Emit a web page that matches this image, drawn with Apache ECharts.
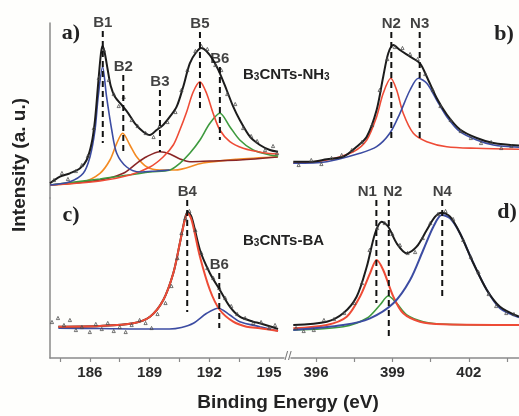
<!DOCTYPE html>
<html><head><meta charset="utf-8">
<script src="https://cdn.jsdelivr.net/npm/echarts@6/dist/echarts.min.js"></script>
<style>html,body{margin:0;padding:0;background:#fefefc}#c{width:519px;height:416px}</style>
</head><body><div id="c"></div>
<script>
// ---------- Panel a: B 1s, B3CNTs-NH3 (binding energy eV, intensity a.u.) ----------
const a_envelope = [[184.00,14.7],[184.50,21.3],[185.00,24.7],[185.51,29.7],[185.84,38],[186.09,54.7],[186.26,78],[186.42,114.7],[186.56,145],[186.64,152],[186.74,146],[186.90,128],[187.05,112],[187.26,101.3],[187.60,93],[187.93,84.7],[188.26,74.7],[188.68,66.3],[189.02,63],[189.35,68],[189.68,73],[190.02,81.3],[190.36,91.3],[190.69,111.3],[191.02,134.7],[191.35,146],[191.60,150],[191.85,147],[192.19,138],[192.53,124.7],[192.87,108],[193.20,91.3],[193.53,78],[194.04,61.3],[194.54,53],[195.04,48],[195.45,46.3]];
const a_B1 = [[184.00,13],[185.00,16.3],[185.67,24.7],[186.01,41.3],[186.26,68],[186.42,101.3],[186.64,131.3],[186.84,101.3],[187.10,68],[187.35,44.7],[187.85,31],[188.52,26],[189.35,27],[190.00,28]];
const a_B2 = [[184.00,13],[185.67,16.3],[186.51,24.7],[187.01,38],[187.35,54.7],[187.65,64.7],[188.01,53],[188.35,41.3],[188.85,31.3],[189.52,28],[190.27,28],[191.68,35],[193.37,38.7],[195.44,41.3]];
const a_B3 = [[184.00,13],[186.51,18],[187.68,24.7],[188.35,34.7],[188.85,41.3],[189.52,46.3],[190.02,44],[190.52,39],[191.02,36.3],[192.03,37],[193.53,38],[195.44,41]];
const a_B5 = [[184.00,13],[186.51,17],[188.01,23],[189.02,31],[189.68,41],[190.19,53],[190.52,68],[190.86,86],[191.19,106],[191.53,116.3],[191.86,104.7],[192.19,84.7],[192.53,68],[193.03,56.3],[193.70,49.7],[194.70,45.3],[195.46,44]];
const a_B6 = [[184.00,13],[186.51,19],[189.02,26],[190.02,28],[190.52,34.7],[191.02,44.7],[191.53,58],[192.03,74.7],[192.53,84.7],[193.03,71.3],[193.53,58],[194.20,48],[195.04,43],[195.46,42]];
const a_points = [[184.2,18],[184.6,25],[184.9,19],[185.3,27],[185.6,33],[185.9,42],[186.2,70],[186.45,120],[186.7,148],[186.95,118],[187.2,104],[187.45,92],[187.7,101],[188.1,78],[188.4,72],[188.8,65],[189.2,61],[189.5,72],[189.9,76],[190.3,86],[190.6,108],[190.9,128],[191.3,147],[191.6,152],[191.9,149],[192.3,133],[192.6,128],[192.9,104],[193.3,94],[193.7,70],[194.1,62],[194.4,57],[194.8,48],[195.2,52],[195.4,45]];
const a_peakNames = ['B1','B2','B3','B5','B6'];
const a_peakE = [186.65,187.68,189.52,191.53,192.53];
const a_peakTop = [167,123,108,166,131];
const a_peakBottom = [55,45,46,88,58];

// ---------- Panel b: N 1s, B3CNTs-NH3 ----------
const b_envelope = [[395.09,36.3],[395.75,36.3],[396.41,38.7],[397.06,41.3],[397.59,51.3],[397.99,61.3],[398.38,88],[398.64,121.3],[398.84,144.7],[399.04,153],[399.30,148],[399.70,141.3],[400.09,134.7],[400.36,121.3],[400.75,100],[401.15,83.5],[401.67,68.5],[402.33,60],[402.99,55],[404.0,52.5]];
const b_N2 = [[395.09,34.7],[396.41,38],[397.46,46.3],[397.99,58],[398.38,81.3],[398.64,104.7],[398.94,119.7],[399.17,108],[399.43,84.7],[399.83,64.7],[400.36,56.3],[401.15,51.3],[402.33,49.7],[404.0,48.7]];
const b_N3 = [[395.09,34.7],[396.41,36.3],[397.72,44.7],[398.38,51.3],[398.90,64.7],[399.30,84.7],[399.70,108],[400.03,119.7],[400.36,114.7],[400.75,98],[401.15,81.3],[401.67,66.3],[402.33,58],[402.99,53],[404.0,50.7]];
const b_points = [[395.3,33],[395.8,38],[396.2,34],[396.6,40],[397.0,43],[397.4,48],[397.8,56],[398.2,73],[398.5,108],[398.8,139],[399.1,151],[399.4,150],[399.7,144],[400.0,139],[400.3,124],[400.6,108],[400.9,92],[401.3,78],[401.7,67],[402.1,60],[402.5,55],[402.9,56],[403.3,50],[403.7,52]];
const b_peakNames = ['N2','N3'];
const b_peakE = [398.96,400.08];
const b_peakTop = [166,166];
const b_peakBottom = [58,58];

// ---------- Panel c: B 1s, B3CNTs-BA ----------
const c_envelope = [[184.42,31.3],[186.51,32],[188.18,34.7],[189.02,41.3],[189.69,58],[190.19,84.7],[190.52,114.7],[190.77,139],[190.91,146.3],[191.11,141],[191.53,108],[192.03,84.7],[192.53,68],[193.03,51.3],[193.53,41.3],[194.20,36.3],[194.54,34.7],[195.45,29]];
const c_B4 = [[184.42,31.3],[186.51,32],[188.18,34.7],[189.02,41.3],[189.69,58],[190.19,84.7],[190.52,114.7],[190.77,138],[190.91,144.7],[191.11,138],[191.53,101.3],[192.03,68],[192.53,48],[193.20,36.3],[193.87,31.3],[194.54,29.7],[195.45,27]];
const c_B6 = [[184.42,29.7],[186.50,29.5],[188.50,29],[190.00,29],[190.60,30.5],[191.20,34.7],[191.87,44.7],[192.45,49.7],[193.03,43],[193.53,36.3],[194.54,31.3],[195.45,27]];
const c_points = [[184.1,36],[184.4,40],[184.7,33],[185.0,38],[185.3,28],[185.6,31],[186.0,26],[186.3,34],[186.6,29],[186.9,35],[187.2,27],[187.5,31],[187.8,26],[188.1,33],[188.5,38],[188.8,35],[189.1,30],[189.4,44],[189.8,55],[190.1,72],[190.4,100],[190.6,125],[190.8,140],[191.0,147],[191.3,128],[191.6,105],[191.9,90],[192.2,80],[192.5,70],[192.8,60],[193.1,52],[193.4,44],[193.8,40],[194.2,35],[194.6,36],[195.0,30],[195.3,33]];
const c_peakNames = ['B4','B6'];
const c_peakE = [190.89,192.50];
const c_peakTop = [158,85];
const c_peakBottom = [46,30];

// ---------- Panel d: N 1s, B3CNTs-BA ----------
const d_envelope = [[395.09,33],[396.41,36.3],[397.06,44.7],[397.59,61.3],[397.99,91.3],[398.32,124.7],[398.58,136.3],[398.84,131.3],[399.17,114.7],[399.57,104.7],[399.96,111.3],[400.36,128],[400.69,141.3],[400.95,145.3],[401.28,141.3],[401.67,124.7],[402.20,94.7],[402.73,68],[403.25,51.3],[404.0,41.3]];
const d_N1 = [[395.09,29.7],[396.41,33],[397.20,41.3],[397.72,61.3],[398.12,84.7],[398.38,98],[398.64,88],[399.04,61.3],[399.43,44.7],[400.09,36.3],[401.01,33.7],[404.0,33]];
const d_N2 = [[395.09,28],[397.06,31.3],[397.99,39.7],[398.51,53],[398.84,62],[399.17,54.7],[399.57,43],[400.22,36.3],[401.15,33.7],[404.0,33]];
const d_N4 = [[395.09,28],[397.06,33],[398.12,39.7],[399.04,54.7],[399.70,78],[400.22,108],[400.62,131.3],[400.95,143],[401.28,139.7],[401.67,124.7],[402.20,94.7],[402.73,68],[403.25,49.7],[404.0,40.7]];
const d_points = [[395.2,30],[395.5,27],[395.9,28],[396.3,38],[396.7,39],[397.1,45],[397.5,55],[397.8,75],[398.1,108],[398.4,130],[398.7,135],[399.0,124],[399.3,113],[399.6,105],[399.9,106],[400.2,120],[400.5,135],[400.8,144],[401.1,147],[401.4,139],[401.8,118],[402.1,101],[402.4,86],[402.8,64],[403.1,52],[403.5,45],[403.8,44]];
const d_peakNames = ['N1','N2','N4'];
const d_peakE = [398.37,398.86,400.97];
const d_peakTop = [158,158,158];
const d_peakBottom = [55,18,58];
const d_labelShift = [-9,4,0];

// ---------- Axis ticks ----------
const boronTicks = {min:184.5, max:195, step:1.5};
const nitrogenTicks = {min:396, max:403.5, step:1.5};
const xTitle = 'Binding Energy (eV)';
const yTitle = 'Intensity (a. u.)';

const C = {black:'#1c1c1c', blue:'#3c4ca2', red:'#ee4b36', orange:'#f38a22', green:'#3e9a3e', brown:'#8a2626'};
const SANS = '"Liberation Sans", Arial, sans-serif';
const SERIF = '"Liberation Serif", "Times New Roman", serif';
const AX = '#8a8a8a';

function curve(data, color, g, w) {
  return {type:'line', xAxisIndex:g, yAxisIndex:g, data:data, smooth:0.3, symbol:'none',
          lineStyle:{color:color, width:w||1.6}, z:2, silent:true};
}
function dots(data, g) {
  return {type:'scatter', xAxisIndex:g, yAxisIndex:g, data:data, symbol:'triangle', symbolSize:3.2,
          itemStyle:{color:'transparent', borderColor:'#4a4a4a', borderWidth:0.9, opacity:0.85}, z:3, silent:true};
}
function peaks(names, e, top, bottom, g, shift) {
  const out = [];
  names.forEach(function(n, i) {
    out.push({type:'line', xAxisIndex:g, yAxisIndex:g, data:[[e[i], top[i]], [e[i], bottom[i]]],
      symbol:'none', lineStyle:{color:'#111', width:2, type:[6,4]}, z:4, silent:true});
  });
  out.push({type:'scatter', xAxisIndex:g, yAxisIndex:g, symbolSize:0, z:5, silent:true,
    data: names.map(function(n, i){ return {value:[e[i], top[i]], name:n, label:{offset:[shift ? shift[i] : 0, 0]}}; }),
    label:{show:true, position:'top', distance:1, formatter:'{b}', fontFamily:SANS, fontWeight:'bold', fontSize:15, color:'#111'}});
  return out;
}
function hiddenY(g, max, showLine) {
  return {type:'value', gridIndex:g, min:0, max:max, show:true,
    axisLine:{show:!!showLine, onZero:false, lineStyle:{color:AX, width:1.5}},
    axisTick:{show:false}, axisLabel:{show:false}, splitLine:{show:false}};
}
function plainX(g, min, max, showLine) {
  return {type:'value', gridIndex:g, min:min, max:max,
    axisLine:{show:!!showLine, onZero:false, lineStyle:{color:AX, width:1.5}},
    axisTick:{show:false}, axisLabel:{show:false}, splitLine:{show:false}};
}
function tickX(g, t) {
  return {type:'value', gridIndex:g, min:t.min, max:t.max, interval:t.step,
    axisLine:{show:false}, splitLine:{show:false},
    axisTick:{show:true, inside:false, length:4, lineStyle:{color:AX, width:1.2}},
    axisLabel:{show:true, margin:7, fontFamily:SANS, fontWeight:'bold', fontSize:15, color:'#2a2a2a',
      formatter:function(v){ return (Math.abs(v % 3) < 1e-9) ? String(v) : ''; }}};
}

const series = [].concat(
  [curve(a_B2, C.orange, 0), curve(a_B3, C.brown, 0), curve(a_B6, C.green, 0), curve(a_B5, C.red, 0), curve(a_B1, C.blue, 0),
   curve(a_envelope, C.black, 0, 2), dots(a_points, 0)],
  peaks(a_peakNames, a_peakE, a_peakTop, a_peakBottom, 0),
  [curve(c_B6, C.blue, 1), curve(c_envelope, C.black, 1, 2), curve(c_B4, C.red, 1, 2), dots(c_points, 1)],
  peaks(c_peakNames, c_peakE, c_peakTop, c_peakBottom, 1),
  [curve(b_N2, C.red, 2), curve(b_N3, C.blue, 2), curve(b_envelope, C.black, 2, 2), dots(b_points, 2)],
  peaks(b_peakNames, b_peakE, b_peakTop, b_peakBottom, 2),
  [curve(d_N2, C.green, 3), curve(d_N1, C.red, 3, 2), curve(d_N4, C.blue, 3, 2), curve(d_envelope, C.black, 3, 2), dots(d_points, 3)],
  peaks(d_peakNames, d_peakE, d_peakTop, d_peakBottom, 3, d_labelShift)
);

const option = {
  animation:false,
  backgroundColor:'#fefefc',
  grid:[
    {left:50, top:23, width:234, height:175},
    {left:50, top:198, width:234, height:160},
    {left:291, top:23, width:229, height:175},
    {left:291, top:198, width:229, height:160},
    {left:60, top:300, width:209, height:58},
    {left:316, top:300, width:191, height:58}
  ],
  xAxis:[
    plainX(0, 184, 195.75, false),
    plainX(1, 184, 195.75, true),
    plainX(2, 395, 404, false),
    plainX(3, 395, 404, true),
    tickX(4, boronTicks),
    tickX(5, nitrogenTicks)
  ],
  yAxis:[
    hiddenY(0, 175, true), hiddenY(1, 160, true), hiddenY(2, 175, false), hiddenY(3, 160, false),
    hiddenY(4, 1, false), hiddenY(5, 1, false)
  ],
  series: series,
  graphic:[
    {type:'text', x:71, y:33, style:{text:'a)', font:'bold 22px '+SERIF, fill:'#222', align:'center', verticalAlign:'middle'}},
    {type:'text', x:504, y:34, style:{text:'b)', font:'bold 22px '+SERIF, fill:'#222', align:'center', verticalAlign:'middle'}},
    {type:'text', x:71, y:215, style:{text:'c)', font:'bold 22px '+SERIF, fill:'#222', align:'center', verticalAlign:'middle'}},
    {type:'text', x:507, y:212, style:{text:'d)', font:'bold 22px '+SERIF, fill:'#222', align:'center', verticalAlign:'middle'}},
    {type:'text', x:243, y:72, style:{text:'{n|B}{s|3}{n|CNTs-NH}{s|3}', verticalAlign:'middle',
      rich:{n:{fontFamily:SANS, fontWeight:'bold', fontSize:15, fill:'#222', color:'#222', verticalAlign:'bottom', lineHeight:20},
            s:{fontFamily:SANS, fontWeight:'bold', fontSize:10, fill:'#222', color:'#222', verticalAlign:'bottom', lineHeight:14}}}},
    {type:'text', x:243, y:238, style:{text:'{n|B}{s|3}{n|CNTs-BA}', verticalAlign:'middle',
      rich:{n:{fontFamily:SANS, fontWeight:'bold', fontSize:15, fill:'#222', color:'#222', verticalAlign:'bottom', lineHeight:20},
            s:{fontFamily:SANS, fontWeight:'bold', fontSize:10, fill:'#222', color:'#222', verticalAlign:'bottom', lineHeight:14}}}},
    {type:'text', x:288, y:356, style:{text:'//', font:'13px '+SANS, fill:'#777', align:'center', verticalAlign:'middle'}},
    {type:'text', x:20, y:165, rotation:Math.PI/2, style:{text:yTitle, font:'bold 19px '+SANS, fill:'#222', align:'center', verticalAlign:'middle'}},
    {type:'text', x:288, y:403, style:{text:xTitle, font:'bold 19px '+SANS, fill:'#222', align:'center', verticalAlign:'middle'}}
  ]
};
const chart = echarts.init(document.getElementById('c'), null, {renderer:'canvas'});
chart.setOption(option);
</script>
</body></html>
